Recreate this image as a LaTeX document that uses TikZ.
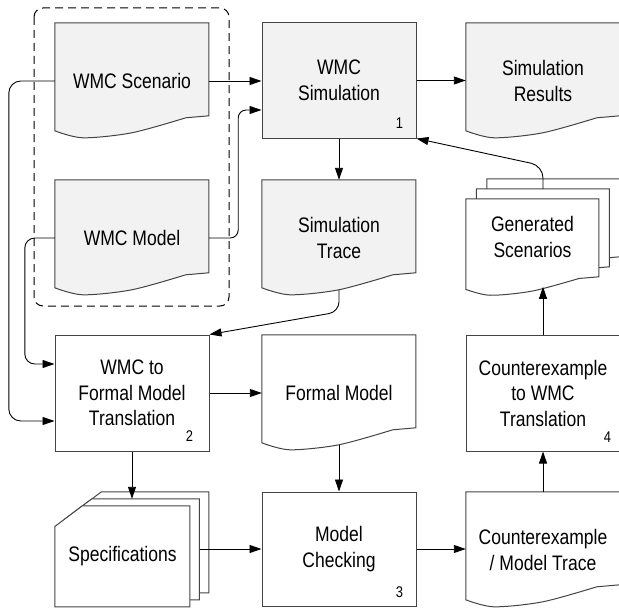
\documentclass[tikz,border=0pt]{standalone}
\usepackage{fontspec}
\setmainfont[FakeStretch=0.835]{Liberation Sans}
\usetikzlibrary{arrows.meta,backgrounds,calc}
\definecolor{shapefill}{HTML}{F2F2F2}
\definecolor{outline}{HTML}{444444}
\newcommand\docshape[4]{%
  \begin{scope}[shift={#1}, xscale=#2/154, yscale=#3/93]
    \draw[shapeline, fill=#4] (0,0) -- (154,0) -- (154,93) -- plot[smooth] coordinates {(131,95) (77,110) (28,115) (0,108)} -- cycle;
  \end{scope}}
\newcommand\cardshape[1]{%
  \begin{scope}[shift={#1}]
    \draw[shapeline, fill=white] (0,20.7) -- (27.6,0) -- (135,0) -- (135,101) -- (0,101) -- cycle;
  \end{scope}}
\begin{document}
\begin{tikzpicture}[x=1pt,y=-1pt,
  shapeline/.style={draw=outline, line width=1pt},
  txt/.style={font=\fontsize{21}{25.5}\selectfont, align=center, inner sep=0pt},
  proc/.style={txt, shapeline, minimum width=154pt, minimum height=115pt},
  doc/.style={txt, minimum width=154pt, minimum height=116pt},
  num/.style={font=\fontsize{15.5}{15.5}\selectfont, inner sep=0pt},
  conn/.style={draw=black, line width=0.9pt, -{Triangle[length=12pt,width=8pt]}},
  group/.style={draw=black, line width=1pt, dash pattern=on 8pt off 5pt, rounded corners=9pt}]
\useasboundingbox (0,0) rectangle (619,610);
\clip (0,0) rectangle (619,610);

% process boxes
\node[proc, fill=shapefill] (sim) at (339,80.5) {WMC\\Simulation};
\node[proc, fill=white, minimum height=116pt] (trans) at (132,393) {WMC to\\Formal Model\\Translation};
\node[proc, fill=white, minimum height=114pt] (mc) at (339,549) {Model\\Checking};
\node[proc, fill=white, minimum height=116pt] (cex) at (543,393) {Counterexample\\to WMC\\Translation};

% documents
\node[doc] (scen) at (132,81) {WMC Scenario};
\node[doc] (model) at (132,238) {WMC Model};
\node[doc] (res) at (543,81) {Simulation\\Results};
\node[doc] (trace) at (339,238) {Simulation\\Trace};
\node[doc] (formal) at (339,393) {Formal Model};
\node[doc] (cemt) at (543,550) {Counterexample\\/ Model Trace};
\node[doc, minimum width=133pt, minimum height=76pt] (gen) at (532.5,237) {Generated\\Scenarios};
\node[txt, minimum width=135pt, minimum height=101pt] (spec) at (122.5,556.5) {Specifications};

\begin{pgfonlayer}{background}
  \docshape{(scen.north west)}{154}{93}{shapefill}
  \docshape{(model.north west)}{154}{93}{shapefill}
  \docshape{(res.north west)}{154}{93}{shapefill}
  \docshape{(trace.north west)}{154}{93}{shapefill}
  \docshape{(formal.north west)}{154}{93}{white}
  \docshape{(cemt.north west)}{154}{93}{white}
  \docshape{($(gen.north west)+(21,-20)$)}{133}{78}{white}
  \docshape{($(gen.north west)+(10.5,-10)$)}{133}{78}{white}
  \docshape{(gen.north west)}{133}{78}{white}
  \cardshape{($(spec.north west)+(19,-14)$)}
  \cardshape{($(spec.north west)+(9.5,-7)$)}
  \cardshape{(spec.north west)}
\end{pgfonlayer}

% step numbers
\node[num] (n1) at ($(sim.south east)+(-17,-15)$) {1};
\node[num] (n2) at ($(trans.south east)+(-20,-15)$) {2};
\node[num] (n3) at ($(mc.south east)+(-17,-14)$) {3};
\node[num] (n4) at ($(cex.south east)+(-13,-14)$) {4};

% input group
\draw[group] (34,8) rectangle (229,306);

% connectors
\draw[conn] (scen.east) -- (sim.west |- scen.east);
\draw[conn, rounded corners=8pt] (model.east) -- ++(29,0) |- ($(sim.west)+(0,29.5)$);
\draw[conn, rounded corners=12pt] (scen.west) -- ++(-46,0) |- ($(trans.west)+(0,28)$);
\draw[conn, rounded corners=10pt] (model.west) -- ++(-30,0) |- ($(trans.west)+(0,-29)$);
\draw[conn] (sim.south) -- (trace.north);
\draw[conn] (sim.east) -- (res.west |- sim.east);
\draw[conn, rounded corners=10pt] ($(trace.north)+(0,110)$) -- ($(trace.north)+(0,132)$) -- (trans.north east);
\draw[conn] (trans.east) -- (formal.west |- trans.east);
\draw[conn] ($(formal.north)+(0,110)$) -- (mc.north);
\draw[conn] (trans.south) -- ($(trans.south |- spec.north)+(0,-7)$);
\coordinate (specout) at ($(spec.east)+(9.5,-7.5)$);
\draw[conn] (specout) -- (mc.west |- specout);
\draw[conn] (mc.east) -- (cemt.west |- mc.east);
\draw[conn] (cemt.north) -- (cex.south);
\draw[conn] (cex.north) -- ($(cex.north |- gen.north)+(0,88)$);
\draw[conn, rounded corners=12pt] ($(cex.north |- gen.north)+(0,-10)$) -- ($(cex.north |- gen.north)+(0,-33)$) -- (sim.south east);
\end{tikzpicture}
\end{document}
